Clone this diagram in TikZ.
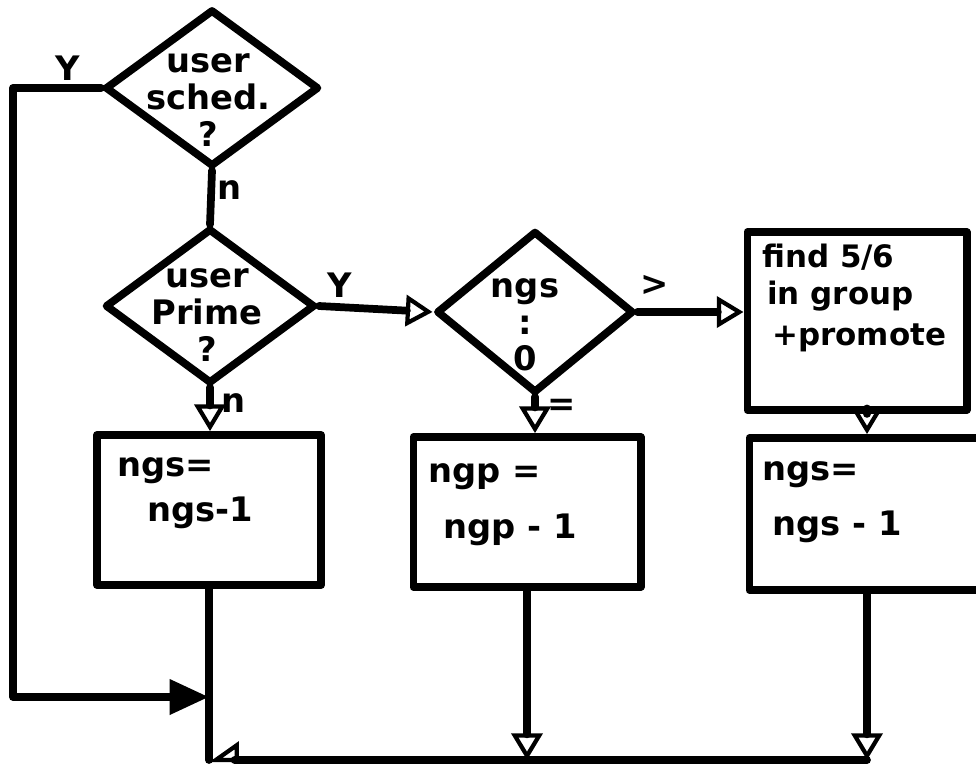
\documentclass[tikz,border=0pt]{standalone}
\usepackage{fontspec}
\setmainfont{DejaVu Sans}
\usetikzlibrary{shapes.geometric, arrows.meta, positioning}

\tikzset{
  ink/.style={line width=5.5pt, line cap=round, line join=round},
  decision/.style={ink, draw, diamond, inner sep=0pt},
  process/.style={ink, draw, rectangle, inner sep=0pt},
  hand/.style={font=\fontsize{24}{26}\selectfont\bfseries, inner sep=0pt, align=center},
  smallhand/.style={hand, font=\fontsize{22}{24}\selectfont\bfseries},
  openarrow/.style={-{Triangle[open, length=19pt, width=22pt, line width=3pt]}},
  halfarrow/.style={-{Triangle[open, right, length=19pt, width=26pt, line width=3pt]}},
  solidarrow/.style={-{Triangle[length=28pt, width=24pt]}},
}

\begin{document}
\begin{tikzpicture}[x=0.025cm, y=-0.025cm]
  \useasboundingbox (0,0) rectangle (976,765);
  \clip (0,0) rectangle (976,765);

  % Decisions
  \node[decision, minimum width=5.35cm, minimum height=3.93cm] (sched) at (212,88) {};
  \node[decision, minimum width=5.25cm, minimum height=3.88cm] (prime) at (210,306) {};
  \node[decision, minimum width=4.93cm, minimum height=4.05cm] (cmp) at (535,312) {};

  % Boxes
  \node[process, minimum width=5.6cm, minimum height=3.75cm] (decs) at (209,510) {};
  \node[process, minimum width=5.68cm, minimum height=3.75cm] (decp) at (527,512) {};
  \node[process, minimum width=5.48cm, minimum height=4.45cm] (promote) at (857,321) {};
  \node[process, minimum width=5.88cm, minimum height=3.8cm] (decs2) at (867,514) {};

  % Texts in the decisions
  \node[hand] (schedtxt) at (208,100) {user\\sched.\\?};
  \node[hand] (primetxt) at (207,315) {user\\Prime\\?};
  \node[hand] (cmptxt) at (525,325) {ngs\\:\\0};

  % Texts in the boxes
  \node[hand, anchor=base west] (decsA) at (117,476) {ngs=};
  \node[hand, anchor=base west] (decsB) at (147,521) {ngs-1};
  \node[hand, anchor=base west] (decpA) at (428,482) {ngp =};
  \node[hand, anchor=base west] (decpB) at (443,538) {ngp - 1};
  \node[smallhand, anchor=base west] (promA) at (762,267) {find 5/6};
  \node[smallhand, anchor=base west] (promB) at (767,304) {in group};
  \node[smallhand, anchor=base west] (promC) at (772,345) {+promote};
  \node[hand, anchor=base west] (decs2A) at (762,480) {ngs=};
  \node[hand, anchor=base west] (decs2B) at (772,535) {ngs - 1};

  % Coordinates
  \coordinate (loopBot) at (13,697);
  \coordinate (merge) at (decs.south |- loopBot);
  \coordinate (corner) at (decs.south |- 0,760);

  % Connectors
  \draw[ink, solidarrow] (sched.west) -| (loopBot) -- (merge);
  \draw[ink] (sched.south) -- (prime.north);
  \draw[ink, openarrow] (prime.east) -- (cmp.west);
  \draw[ink, openarrow] (cmp.east) -- (promote.west |- cmp.east);
  \draw[ink, openarrow] (prime.south) -- (prime.south |- decs.north);
  \draw[ink, openarrow] (cmp.south) -- (cmp.south |- decp.north);
  \draw[ink, openarrow] (decs2.north |- promote.south) -- (decs2.north);
  \draw[ink] (decs.south) -- (corner);
  \draw[ink, openarrow] (decp.south) -- (decp.south |- corner);
  \draw[ink, openarrow] (decs2.south) -- (decs2.south |- corner);
  \draw[ink, halfarrow] (decs2.south |- corner) -- (corner);

  % Labels
  \node[hand] (ySched) at (68,68) {Y};
  \node[hand] (nSched) at (230,190) {n};
  \node[hand] (yPrime) at (340,285) {Y};
  \node[hand] (nPrime) at (234,403) {n};
  \node[hand] (gtCmp) at (655,285) {>};
  \node[hand] (eqCmp) at (562,407) {=};
\end{tikzpicture}
\end{document}
